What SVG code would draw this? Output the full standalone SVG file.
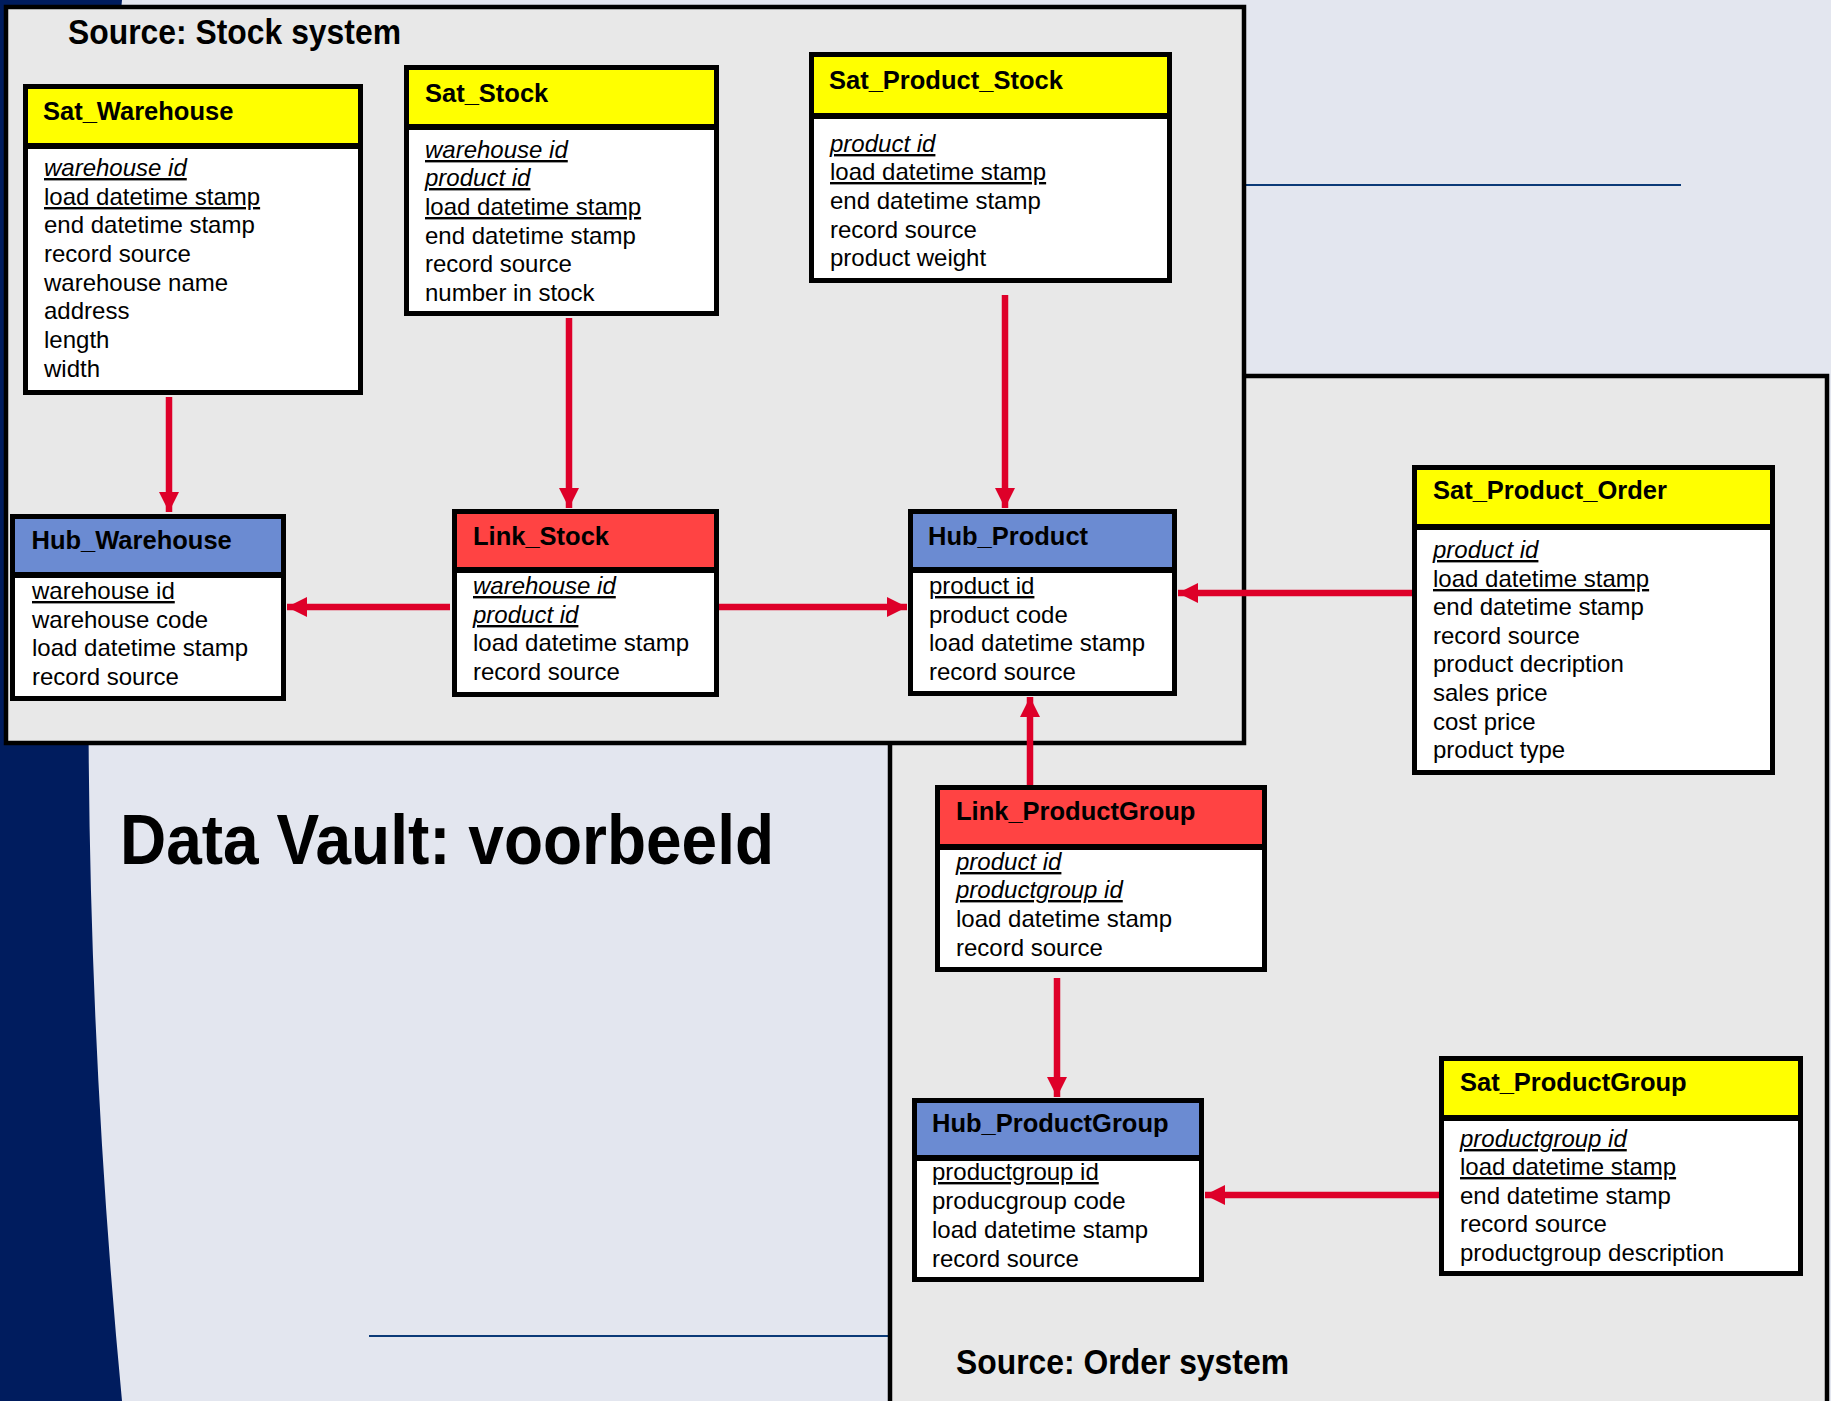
<svg xmlns="http://www.w3.org/2000/svg" width="1831" height="1401" viewBox="0 0 1831 1401">
  <style>
    .panel { fill: #E8E8E8; stroke: #000; stroke-width: 4.5; }
    .box { fill: none; stroke: #000; stroke-width: 5; }
    .body { fill: #FFFFFF; }
    .sat { fill: #FFFF00; }
    .hub { fill: #6B8BD2; }
    .link { fill: #FF4343; }
    .sep { stroke: #000; stroke-width: 6; }
    .title { font-family: "Liberation Sans", Arial, sans-serif; font-weight: bold; font-size: 25.5px; fill: #000; }
    .attr { font-family: "Liberation Sans", Arial, sans-serif; font-size: 24px; fill: #000; }
    .u { text-decoration: underline; }
    .i { font-style: italic; }
    .heading { font-family: "Liberation Sans", Arial, sans-serif; font-weight: bold; fill: #000; }
    .conn { stroke: #DE0029; stroke-width: 6.5; fill: none; marker-end: url(#arrow); }
    .rule { stroke: #0B3A78; stroke-width: 2; }
  </style>
  <defs>
    <marker id="arrow" markerUnits="userSpaceOnUse" markerWidth="22" markerHeight="22" refX="20" refY="10" orient="auto">
      <path d="M0,0 L20,10 L0,20 z" fill="#DE0029"/>
    </marker>
  </defs>

  <!-- slide background -->
  <rect x="0" y="0" width="1831" height="1401" fill="#E3E6EF"/>
  <path d="M0,0 L122,0 Q55,700 122,1401 L0,1401 Z" fill="#001C5E"/>
  <line class="rule" x1="1244" y1="185" x2="1681" y2="185"/>
  <line class="rule" x1="369" y1="1336" x2="890" y2="1336"/>

  <!-- source panels -->
  <g id="panel-order">
    <rect class="panel" x="890" y="376" width="937" height="1040"/>
    <text class="heading" x="956" y="1374" font-size="35" textLength="333" lengthAdjust="spacingAndGlyphs">Source: Order system</text>
  </g>
  <g id="panel-stock">
    <rect class="panel" x="6" y="7" width="1238" height="736"/>
    <text class="heading" x="68" y="44" font-size="35" textLength="333" lengthAdjust="spacingAndGlyphs">Source: Stock system</text>
  </g>

  <text class="heading" x="120" y="864" font-size="70" textLength="654" lengthAdjust="spacingAndGlyphs">Data Vault: voorbeeld</text>

  <!-- connectors -->
  <g id="connectors">
    <line class="conn" x1="169" y1="397" x2="169" y2="512"/>
    <line class="conn" x1="569" y1="318" x2="569" y2="508"/>
    <line class="conn" x1="1005" y1="295" x2="1005" y2="508"/>
    <line class="conn" x1="450" y1="607" x2="287" y2="607"/>
    <line class="conn" x1="719" y1="607" x2="907" y2="607"/>
    <line class="conn" x1="1412" y1="593" x2="1178" y2="593"/>
    <line class="conn" x1="1030" y1="785" x2="1030" y2="697"/>
    <line class="conn" x1="1057" y1="978" x2="1057" y2="1097"/>
    <line class="conn" x1="1440" y1="1195" x2="1205" y2="1195"/>
  </g>

  <!-- Sat_Warehouse -->
  <g id="sat-warehouse">
    <rect class="body" x="23" y="84" width="340" height="311"/>
    <rect class="sat" x="23" y="84" width="340" height="62"/>
    <line class="sep" x1="23" y1="146" x2="363" y2="146"/>
    <rect class="box" x="25.5" y="86.5" width="335" height="306"/>
    <text class="title" x="43" y="120">Sat_Warehouse</text>
    <text class="attr u i" x="44" y="176">warehouse id</text>
    <text class="attr u" x="44" y="205">load datetime stamp</text>
    <text class="attr" x="44" y="233">end datetime stamp</text>
    <text class="attr" x="44" y="262">record source</text>
    <text class="attr" x="44" y="291">warehouse name</text>
    <text class="attr" x="44" y="319">address</text>
    <text class="attr" x="44" y="348">length</text>
    <text class="attr" x="44" y="377">width</text>
  </g>

  <!-- Sat_Stock -->
  <g id="sat-stock">
    <rect class="body" x="404" y="65" width="315" height="251"/>
    <rect class="sat" x="404" y="65" width="315" height="62"/>
    <line class="sep" x1="404" y1="127" x2="719" y2="127"/>
    <rect class="box" x="406.5" y="67.5" width="310" height="246"/>
    <text class="title" x="425" y="101.5">Sat_Stock</text>
    <text class="attr u i" x="425" y="158">warehouse id</text>
    <text class="attr u i" x="425" y="186">product id</text>
    <text class="attr u" x="425" y="215">load datetime stamp</text>
    <text class="attr" x="425" y="244">end datetime stamp</text>
    <text class="attr" x="425" y="272">record source</text>
    <text class="attr" x="425" y="301">number in stock</text>
  </g>

  <!-- Sat_Product_Stock -->
  <g id="sat-product-stock">
    <rect class="body" x="809" y="52" width="363" height="231"/>
    <rect class="sat" x="809" y="52" width="363" height="64"/>
    <line class="sep" x1="809" y1="116" x2="1172" y2="116"/>
    <rect class="box" x="811.5" y="54.5" width="358" height="226"/>
    <text class="title" x="829" y="89">Sat_Product_Stock</text>
    <text class="attr u i" x="830" y="152">product id</text>
    <text class="attr u" x="830" y="180">load datetime stamp</text>
    <text class="attr" x="830" y="209">end datetime stamp</text>
    <text class="attr" x="830" y="238">record source</text>
    <text class="attr" x="830" y="266">product weight</text>
  </g>

  <!-- Hub_Warehouse -->
  <g id="hub-warehouse">
    <rect class="body" x="10" y="514" width="276" height="187"/>
    <rect class="hub" x="10" y="514" width="276" height="61"/>
    <line class="sep" x1="10" y1="575" x2="286" y2="575"/>
    <rect class="box" x="12.5" y="516.5" width="271" height="182"/>
    <text class="title" x="31.5" y="549">Hub_Warehouse</text>
    <text class="attr u" x="32" y="599">warehouse id</text>
    <text class="attr" x="32" y="628">warehouse code</text>
    <text class="attr" x="32" y="656">load datetime stamp</text>
    <text class="attr" x="32" y="685">record source</text>
  </g>

  <!-- Link_Stock -->
  <g id="link-stock">
    <rect class="body" x="452" y="509" width="267" height="188"/>
    <rect class="link" x="452" y="509" width="267" height="61"/>
    <line class="sep" x1="452" y1="570" x2="719" y2="570"/>
    <rect class="box" x="454.5" y="511.5" width="262" height="183"/>
    <text class="title" x="473" y="545">Link_Stock</text>
    <text class="attr u i" x="473" y="594">warehouse id</text>
    <text class="attr u i" x="473" y="623">product id</text>
    <text class="attr" x="473" y="651">load datetime stamp</text>
    <text class="attr" x="473" y="680">record source</text>
  </g>

  <!-- Hub_Product -->
  <g id="hub-product">
    <rect class="body" x="908" y="509" width="269" height="187"/>
    <rect class="hub" x="908" y="509" width="269" height="61"/>
    <line class="sep" x1="908" y1="570" x2="1177" y2="570"/>
    <rect class="box" x="910.5" y="511.5" width="264" height="182"/>
    <text class="title" x="928" y="545">Hub_Product</text>
    <text class="attr u" x="929" y="594">product id</text>
    <text class="attr" x="929" y="623">product code</text>
    <text class="attr" x="929" y="651">load datetime stamp</text>
    <text class="attr" x="929" y="680">record source</text>
  </g>

  <!-- Sat_Product_Order -->
  <g id="sat-product-order">
    <rect class="body" x="1412" y="465" width="363" height="310"/>
    <rect class="sat" x="1412" y="465" width="363" height="62"/>
    <line class="sep" x1="1412" y1="527" x2="1775" y2="527"/>
    <rect class="box" x="1414.5" y="467.5" width="358" height="305"/>
    <text class="title" x="1433" y="499">Sat_Product_Order</text>
    <text class="attr u i" x="1433" y="558">product id</text>
    <text class="attr u" x="1433" y="587">load datetime stamp</text>
    <text class="attr" x="1433" y="615">end datetime stamp</text>
    <text class="attr" x="1433" y="644">record source</text>
    <text class="attr" x="1433" y="672">product decription</text>
    <text class="attr" x="1433" y="701">sales price</text>
    <text class="attr" x="1433" y="730">cost price</text>
    <text class="attr" x="1433" y="758">product type</text>
  </g>

  <!-- Link_ProductGroup -->
  <g id="link-productgroup">
    <rect class="body" x="935" y="785" width="332" height="187"/>
    <rect class="link" x="935" y="785" width="332" height="62"/>
    <line class="sep" x1="935" y1="847" x2="1267" y2="847"/>
    <rect class="box" x="937.5" y="787.5" width="327" height="182"/>
    <text class="title" x="956" y="820">Link_ProductGroup</text>
    <text class="attr u i" x="956" y="870">product id</text>
    <text class="attr u i" x="956" y="898">productgroup id</text>
    <text class="attr" x="956" y="927">load datetime stamp</text>
    <text class="attr" x="956" y="956">record source</text>
  </g>

  <!-- Hub_ProductGroup -->
  <g id="hub-productgroup">
    <rect class="body" x="912" y="1098" width="292" height="184"/>
    <rect class="hub" x="912" y="1098" width="292" height="60"/>
    <line class="sep" x1="912" y1="1158" x2="1204" y2="1158"/>
    <rect class="box" x="914.5" y="1100.5" width="287" height="179"/>
    <text class="title" x="932" y="1131.5">Hub_ProductGroup</text>
    <text class="attr u" x="932" y="1180">productgroup id</text>
    <text class="attr" x="932" y="1209">producgroup code</text>
    <text class="attr" x="932" y="1238">load datetime stamp</text>
    <text class="attr" x="932" y="1267">record source</text>
  </g>

  <!-- Sat_ProductGroup -->
  <g id="sat-productgroup">
    <rect class="body" x="1439" y="1056" width="364" height="220"/>
    <rect class="sat" x="1439" y="1056" width="364" height="62"/>
    <line class="sep" x1="1439" y1="1118" x2="1803" y2="1118"/>
    <rect class="box" x="1441.5" y="1058.5" width="359" height="215"/>
    <text class="title" x="1460" y="1091">Sat_ProductGroup</text>
    <text class="attr u i" x="1460" y="1147">productgroup id</text>
    <text class="attr u" x="1460" y="1175">load datetime stamp</text>
    <text class="attr" x="1460" y="1204">end datetime stamp</text>
    <text class="attr" x="1460" y="1232">record source</text>
    <text class="attr" x="1460" y="1261">productgroup description</text>
  </g>
</svg>
